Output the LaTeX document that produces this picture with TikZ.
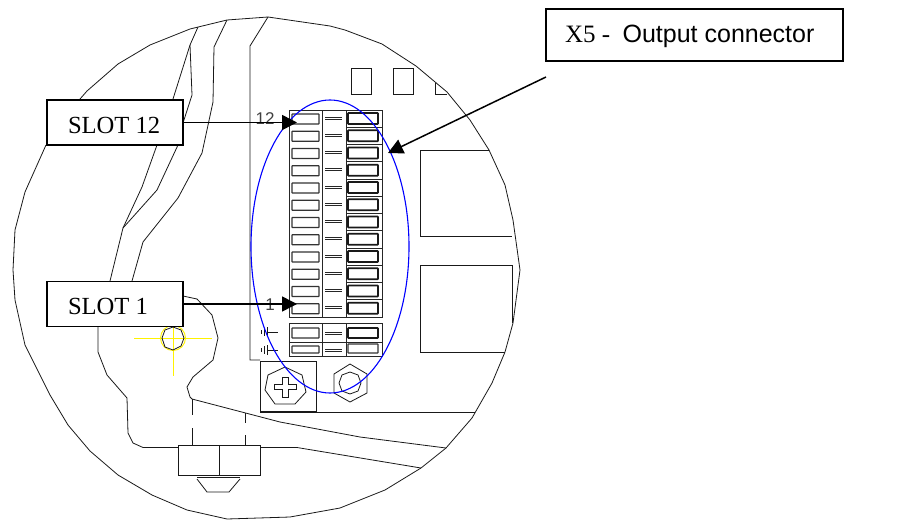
\documentclass[tikz,border=0pt]{standalone}
\usepackage{fontspec}
\setmainfont{Liberation Serif}
\setsansfont{Liberation Sans}
\usepackage{tikz}
\usetikzlibrary{arrows.meta}
\newcommand{\slottext}[1]{\makebox[94pt][l]{#1}}
\newcommand{\titletext}[1]{\makebox[259pt][l]{#1}}
\tikzset{outline/.style={line width=0.8pt, black!90}}
\tikzset{marker/.style={yellow, line width=0.9pt}}
\tikzset{slotbox/.style={draw, fill=white, line width=1.5pt, inner xsep=21pt, inner ysep=0pt, minimum height=45pt, text height=21pt, text depth=0pt, font=\fontsize{24.6}{24.6}\selectfont}}
\tikzset{titlebox/.style={draw, fill=white, line width=1.5pt, inner xsep=19pt, inner ysep=0pt, minimum height=52pt, text height=14pt, text depth=0pt, font=\fontsize{25}{25}\selectfont}}
\tikzset{pointer/.style={line width=1.5pt, -{Triangle[length=15pt, width=15pt]}}}
\tikzset{strip/.style={line width=0.9pt, black!85}}
\tikzset{contact/.style={line width=1.2pt, black!80, rounded corners=0.5pt}}
\tikzset{heavy contact/.style={line width=1.7pt, black!90, rounded corners=0.5pt}}
\tikzset{tag/.style={inner sep=0pt, text=black!75, font=\sffamily\fontsize{17}{17}\selectfont}}

\begin{document}
\begin{tikzpicture}[x=1pt, y=-1pt]
            \useasboundingbox (0, 0) rectangle (901, 522);
            % housing outline
            \draw[outline] (80, 99) -- (87, 91) -- (118, 64) -- (150, 45) -- (190, 29) -- (227, 20) -- (268, 17) -- (330, 26) -- (345, 30) -- (382, 44) -- (416, 66) -- (447, 92) -- (470, 120) -- (489, 150) -- (505, 185) -- (513, 220) -- (520, 270) -- (513, 323) -- (505, 352) -- (492, 383) -- (472, 418) -- (446, 448) -- (421, 468) -- (385, 490) -- (340, 508) -- (290, 517) -- (227, 519) -- (187, 510) -- (152, 495) -- (118, 475) -- (90, 451) -- (68, 425) -- (50, 395) -- (25, 345) -- (15, 300) -- (13, 270) -- (15, 230) -- (25, 192) -- (46, 145);
            % inner contours
            \draw[outline] (198, 27) -- (190, 45) -- (173, 99) -- (157, 145) -- (142, 187) -- (123, 228) -- (110, 281);
            \draw[outline] (190, 45) -- (192, 95) -- (183, 123) -- (178, 145) -- (157, 190) -- (123, 228);
            \draw[outline] (227, 20) -- (214, 47) -- (213, 102) -- (202, 153) -- (178, 198) -- (143, 242) -- (132, 281);
            \draw[outline] (98, 327) -- (98, 352) -- (107, 375) -- (127, 398) -- (128, 433) -- (133, 443) -- (143, 447.5) -- (178, 447.5);
            \draw[outline] (183, 296) -- (197, 299) -- (212, 315) -- (218, 338) -- (213, 360) -- (193, 377) -- (187, 387) -- (190, 397) -- (192, 399) -- (280, 422) -- (360, 437) -- (446, 448);
            \draw[outline] (260, 447.5) -- (297, 447.5) -- (421, 468);
            % bolt
            \draw[outline] (178, 445) rectangle (260, 475);
            \draw[outline] (219, 445) -- (219, 475);
            \draw[outline] (197, 477) -- (240, 477);
            \draw[outline] (197, 479) -- (207, 492) -- (229, 492) -- (240, 479);
            \draw[outline] (192, 399) -- (192, 415);
            \draw[outline] (192, 428) -- (192, 445);
            \draw[outline] (245, 413) -- (245, 423);
            \draw[outline] (245, 435) -- (245, 445);
            % board
            \draw[outline] (268, 17) -- (250, 46) -- (250, 360) -- (260, 360);
            \draw[outline] (260, 361) rectangle (316, 411);
            \draw[outline] (260, 412) -- (475, 412);
            \draw[outline] (351, 68) rectangle (371, 94);
            \draw[outline] (393, 68) rectangle (413, 94);
            \draw[outline] (435, 83) -- (435, 94) -- (447, 94);
            \draw[outline] (489, 150) -- (420, 150) -- (420, 236) -- (512, 236);
            \draw[outline] (512, 323) -- (512, 265) -- (420, 265) -- (420, 352) -- (505, 352);
            % screws
            \draw[outline] (285, 367) -- (302, 375) -- (306, 392) -- (295, 404) -- (275, 404) -- (265, 390) -- (268, 375) -- cycle;
            \draw[outline] (274, 384) -- (282, 384) -- (282, 377) -- (288, 377) -- (288, 384) -- (296, 384) -- (296, 389) -- (288, 389) -- (288, 397) -- (282, 397) -- (282, 389) -- (274, 389) -- cycle;
            \draw[outline] (350, 364) -- (367, 374) -- (367, 393) -- (350, 402) -- (334, 393) -- (334, 374) -- cycle;
            \draw[outline] (350, 372) -- (358, 375) -- (361, 383) -- (358, 391) -- (350, 394) -- (342, 391) -- (339, 383) -- (342, 375) -- cycle;
            % yellow marker
            \draw[marker] (134, 338) -- (212, 338);
            \draw[marker] (173, 327) -- (173, 376);
            \draw[marker] (173, 338) circle (12.5);
            \draw[outline] (173, 327) -- (181, 330) -- (184, 338) -- (181, 346) -- (173, 350) -- (165, 347) -- (162, 338) -- (165, 330) -- cycle;
            % terminal strip
            \draw[strip] (289, 110) rectangle (382, 317);
            \draw[strip] (322, 110) -- (322, 317);
            \draw[strip] (346, 110) -- (346, 317);
            \foreach \row in {0, ..., 11} {
                \draw[strip] (346, 110 + 17.25*\row) -- (382, 110 + 17.25*\row);
                \draw[contact] (292, 114 + 17.25*\row) rectangle (319, 124 + 17.25*\row);
                \draw[heavy contact] (348, 113 + 17.25*\row) rectangle (378, 124 + 17.25*\row);
                \draw[strip] (325, 117 + 17.25*\row) -- (342, 117 + 17.25*\row);
                \draw[strip] (325, 119 + 17.25*\row) -- (342, 119 + 17.25*\row);
            }
            % lower strip
            \draw[strip] (289, 323) rectangle (382, 356);
            \draw[strip] (322, 323) -- (322, 356);
            \draw[strip] (346, 323) -- (346, 356);
            \draw[strip] (289, 342) -- (382, 342);
            \draw[contact] (292, 328) rectangle (319, 338);
            \draw[contact] (292, 346) rectangle (319, 353);
            \draw[heavy contact] (348, 328) rectangle (378, 338);
            \draw[contact] (348, 344) rectangle (378, 353);
            \draw[strip] (325, 332) -- (342, 332);
            \draw[strip] (325, 334) -- (342, 334);
            \draw[strip] (325, 349) -- (342, 349);
            \draw[strip] (325, 351) -- (342, 351);
            % ground marks
            \foreach \ymark in {332, 350} {
                \draw[outline] (268, \ymark) -- (278, \ymark);
                \draw[outline] (267, \ymark - 5) -- (267, \ymark + 5);
                \draw[outline] (264, \ymark - 4) -- (264, \ymark + 4);
                \draw[outline] (261, \ymark - 2) -- (261, \ymark + 2);
            }
            \node[tag] (twelve) at (265, 118.5) {12};
            \node[tag] (one) at (270, 305) {1};
            % highlight ellipse
            \draw[blue, line width=1.1pt] (330, 246.5) ellipse (79 and 146.5);
            % labels and arrows
            \node[slotbox] (slot12) at (115, 122.5) {\slottext{SLOT 12}};
            \node[slotbox] (slot1) at (115, 304) {\slottext{SLOT 1}};
            \node[titlebox] (output) at (694.5, 35) {\titletext{X5 -\ \ \textsf{Output connector}}};
            \coordinate (tip12) at (297, 122.5);
            \coordinate (tip1) at (297, 304);
            \coordinate (tail) at (546, 77);
            \coordinate (tipx) at (388, 153);
            \draw[pointer] (slot12.east) -- (tip12);
            \draw[pointer] (slot1.east) -- (tip1);
            \draw[pointer] (tail) -- (tipx);
        \end{tikzpicture}
\end{document}
